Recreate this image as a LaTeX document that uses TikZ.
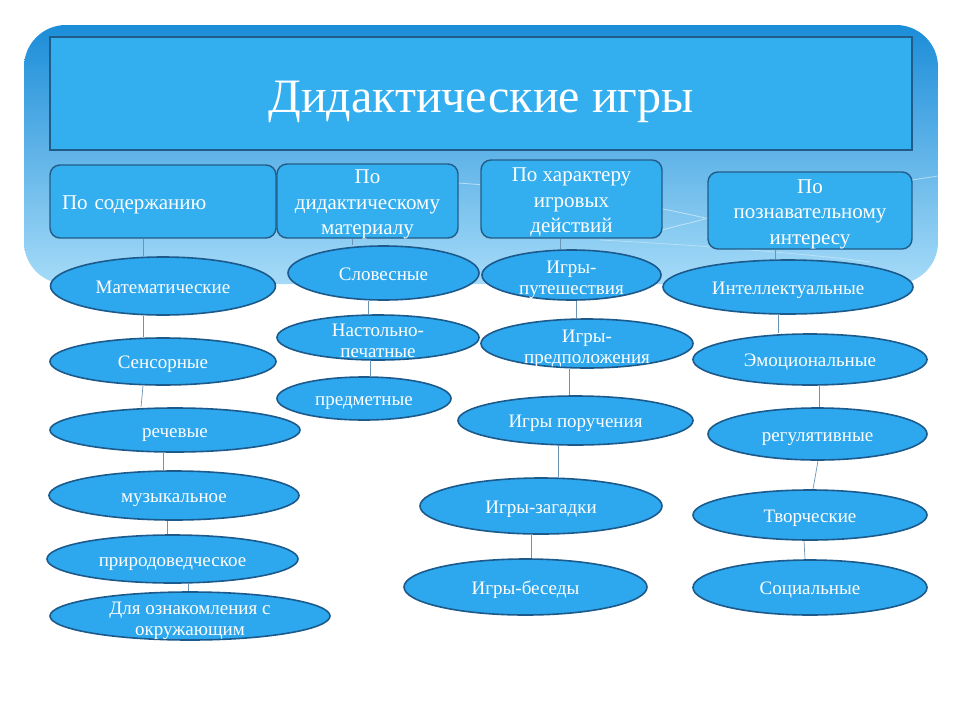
\documentclass[tikz,border=0pt]{standalone}
\usepackage{fontspec}
\setmainfont{Liberation Serif}
\usetikzlibrary{shapes.geometric}
\definecolor{bantop}{HTML}{1B8DD8}
\definecolor{banbot}{HTML}{A6DBF8}
\definecolor{boxfill}{HTML}{33AEEF}
\definecolor{boxline}{HTML}{215C88}
\definecolor{ellfill}{HTML}{2DA8EE}
\definecolor{ellline}{HTML}{1D5A8C}
\definecolor{connline}{HTML}{6C95B5}
\newcommand\ml[1]{\begin{tabular}[t]{@{}c@{}}#1\end{tabular}}
\begin{document}
\begin{tikzpicture}[x=1pt,y=-1pt,
  ell/.style={ellipse, draw=ellline, line width=1.6pt, fill=ellfill, inner xsep=0pt, inner ysep=-14pt,
    text=white, font=\fontsize{19}{21}\selectfont, text height=14pt, text depth=0pt},
  ell2/.style={ell, text height=0pt, text depth=3pt},
  catbox/.style={draw=boxline, line width=1.4pt, fill=boxfill, rounded corners=10pt,
    inner xsep=0pt, inner ysep=-6pt, text=white, font=\fontsize{21}{25.5}\selectfont,
    text height=0pt, text depth=35pt},
  conn/.style={draw=connline, line width=0.7pt}]
\useasboundingbox (0,0) rectangle (960,720);
\fill[white] (0,0) rectangle (960,720);
% banner
\shade[top color=bantop, bottom color=banbot, rounded corners=42pt] (24,25) rectangle (938,284);
\draw[white, opacity=0.5, line width=0.8pt] (458,183) .. controls (560,190) and (650,205) .. (705,218);
\draw[white, opacity=0.5, line width=0.8pt] (662,230) .. controls (680,225) and (695,222) .. (708,218);
\draw[white, opacity=0.5, line width=0.8pt] (912,180) -- (938,176);
\draw[white, opacity=0.35, line width=0.8pt] (600,240) .. controls (700,245) and (820,255) .. (870,262);
% title
\node[draw=boxline, line width=1.4pt, fill=boxfill, minimum width=862pt, minimum height=113pt,
  inner sep=0pt, text=white, font=\fontsize{48}{54}\selectfont, text height=37pt, text depth=0pt]
  (title) at (481,93.5) {Дидактические игры};
% category boxes
\node[catbox, minimum width=226pt, minimum height=73pt, text width=202pt, align=left,
  text height=15pt, text depth=0pt] (c1) at (163,201.5) {По содержанию};
\node[catbox, minimum width=181pt, minimum height=74pt] (c2) at (367.5,201) {\ml{По\\дидактическому\\материалу}};
\node[catbox, minimum width=181pt, minimum height=78pt] (c3) at (571.5,199) {\ml{По характеру\\игровых\\действий}};
\node[catbox, minimum width=204pt, minimum height=77pt] (c4) at (810,210.5) {\ml{По\\познавательному\\интересу}};
% column 1
\node[ell, minimum width=225pt, minimum height=58pt] (a1) at (163,286) {Математические};
\node[ell, minimum width=226pt, minimum height=47pt] (a2) at (163,361.5) {Сенсорные};
\node[ell, minimum width=250pt, minimum height=44pt] (a3) at (175,430) {речевые};
\node[ell, minimum width=250pt, minimum height=49pt] (a4) at (174,495.5) {музыкальное};
\node[ell, minimum width=251pt, minimum height=48pt] (a5) at (172.5,559) {природоведческое};
\node[ell2, minimum width=280pt, minimum height=48pt] (a6) at (190,616) {\ml{Для ознакомления с\\окружающим}};
% column 2
\node[ell, minimum width=191pt, minimum height=54pt] (b1) at (383.5,273) {Словесные};
\node[ell2, minimum width=202pt, minimum height=45pt] (b2) at (378,337.5) {\ml{Настольно-\\печатные}};
\node[ell, minimum width=174pt, minimum height=43pt] (b3) at (364,398.5) {предметные};
% column 3
\node[ell2, minimum width=179pt, minimum height=50pt] (d1) at (571.5,275) {\ml{Игры-\\путешествия}};
\node[ell2, minimum width=212pt, minimum height=49pt] (d2) at (587,343.5) {\ml{Игры-\\предположения}};
\node[ell, minimum width=235pt, minimum height=49pt] (d3) at (575.5,420.5) {Игры поручения};
\node[ell, minimum width=242pt, minimum height=56pt] (d4) at (541,506) {Игры-загадки};
\node[ell, minimum width=243pt, minimum height=56pt] (d5) at (525.5,587) {Игры-беседы};
% column 4
\node[ell, minimum width=250pt, minimum height=54pt] (e1) at (788,287) {Интеллектуальные};
\node[ell, minimum width=234pt, minimum height=51pt] (e2) at (810,359.5) {Эмоциональные};
\node[ell, minimum width=219pt, minimum height=52pt] (e3) at (817.5,434) {регулятивные};
\node[ell, minimum width=234pt, minimum height=50pt] (e4) at (810,515) {Творческие};
\node[ell, minimum width=234pt, minimum height=55pt] (e5) at (810,587.5) {Социальные};
% connectors
\draw[conn] (c1.south -| 143,0) -- (a1.north -| 143,0);
\draw[conn] (a1.south -| 143,0) -- (a2.north -| 143,0);
\draw[conn] (a2.south -| 143,0) -- (a3.north -| 141,0);
\draw[conn] (a3.south -| 163,0) -- (a4.north -| 163,0);
\draw[conn] (a4.south -| 167,0) -- (a5.north -| 167,0);
\draw[conn] (a5.south -| 188,0) -- (a6.north -| 188,0);
\draw[conn] (c2.south -| 352,0) -- (b1.north -| 352,0);
\draw[conn] (b1.south -| 368,0) -- (b2.north -| 368,0);
\draw[conn] (b2.south -| 370,0) -- (b3.north -| 370,0);
\draw[conn] (c3.south -| 560,0) -- (d1.north -| 560,0);
\draw[conn] (d1.south -| 576,0) -- (d2.north -| 576,0);
\draw[conn] (d2.south -| 569,0) -- (d3.north -| 569,0);
\draw[conn] (d3.south -| 558,0) -- (d4.north -| 558,0);
\draw[conn] (d4.south -| 531,0) -- (d5.north -| 531,0);
\draw[conn] (c4.south -| 775,0) -- (e1.north -| 775,0);
\draw[conn] (e1.south -| 778,0) -- (e2.north -| 778,0);
\draw[conn] (e2.south -| 819,0) -- (e3.north -| 819,0);
\draw[conn] (e3.south -| 818,0) -- (e4.north -| 813,0);
\draw[conn] (e4.south -| 804,0) -- (e5.north -| 805,0);
\end{tikzpicture}
\end{document}
